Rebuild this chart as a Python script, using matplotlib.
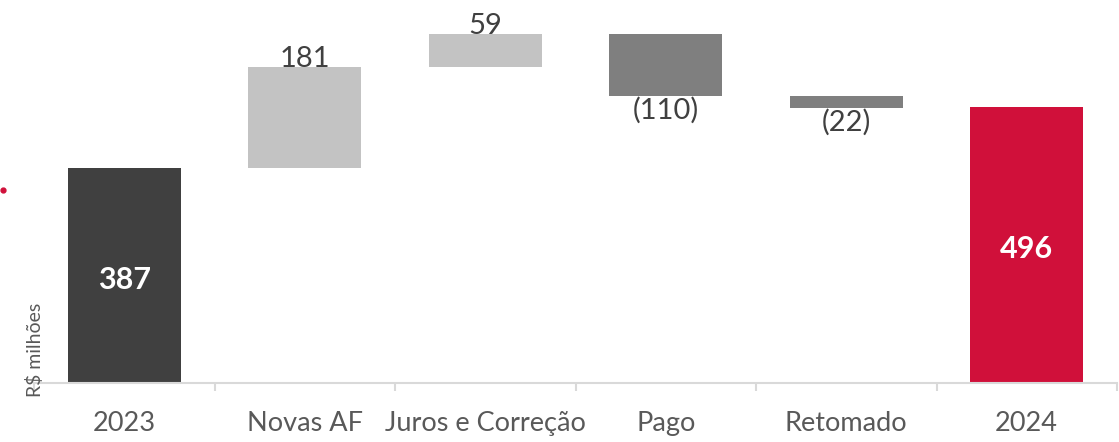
import matplotlib.pyplot as plt
from matplotlib.lines import Line2D

plt.rcParams['font.family'] = ['Lato', 'DejaVu Sans']

cats = ['2023', 'Novas AF', 'Juros e Correção', 'Pago', 'Retomado', '2024']
deltas = [387, 181, 59, -110, -22, 496]
labels = ['387', '181', '59', '(110)', '(22)', '496']
kinds = ['total', 'up', 'up', 'down', 'down', 'total']
colors = {'total0': '#404040', 'up': '#c3c3c3', 'down': '#7f7f7f', 'total1': '#d0103a'}

fig = plt.figure(figsize=(11.19, 4.42), dpi=100)
ax = fig.add_axes([34 / 1119, 59 / 442, 1083 / 1119, 383 / 442])

run = 0
for i, (c, d, lab, k) in enumerate(zip(cats, deltas, labels, kinds)):
    if k == 'total':
        col = colors['total0'] if i == 0 else colors['total1']
        run = d
        ax.bar(i, d, width=0.626, color=col)
        ax.annotate(lab, (i, d / 2), xytext=(0, -3), textcoords='offset points',
                    ha='center', va='center', color='white', fontsize=22, fontweight='bold')
    elif k == 'up':
        ax.bar(i, d, bottom=run, width=0.626, color=colors['up'])
        run += d
        ax.text(i, run, lab, ha='center', va='baseline', color='#404040', fontsize=21)
    else:
        ax.bar(i, d, bottom=run, width=0.626, color=colors['down'])
        run += d
        ax.annotate(lab, (i, run), xytext=(0, -1), textcoords='offset points',
                    ha='center', va='top', color='#404040', fontsize=21)

ax.set_xlim(-0.5, 5.5)
ax.set_ylim(0, 689)
for s in ['top', 'right', 'left']:
    ax.spines[s].set_visible(False)
ax.spines['bottom'].set_color('#d9d9d9')
ax.spines['bottom'].set_linewidth(1.5)
ax.set_yticks([])
ax.set_xticks(range(len(cats)))
ax.set_xticklabels(cats, fontsize=19.5, color='#595959')
ax.tick_params(axis='x', which='major', length=0, pad=20)
ax.set_xticks([x - 0.5 for x in range(len(cats) + 1)], minor=True)
ax.tick_params(axis='x', which='minor', length=6, width=1.5, color='#d9d9d9')

fig.text(35 / 1119, 1 - 350 / 442, 'R$ milhões', rotation=90, ha='center', va='center',
         fontsize=14, color='#595959')
fig.add_artist(Line2D([3 / 1119], [1 - 190 / 442], marker='o', markersize=3.5,
                      color='#d0103a', transform=fig.transFigure))

fig.savefig('out.png', dpi=100)
